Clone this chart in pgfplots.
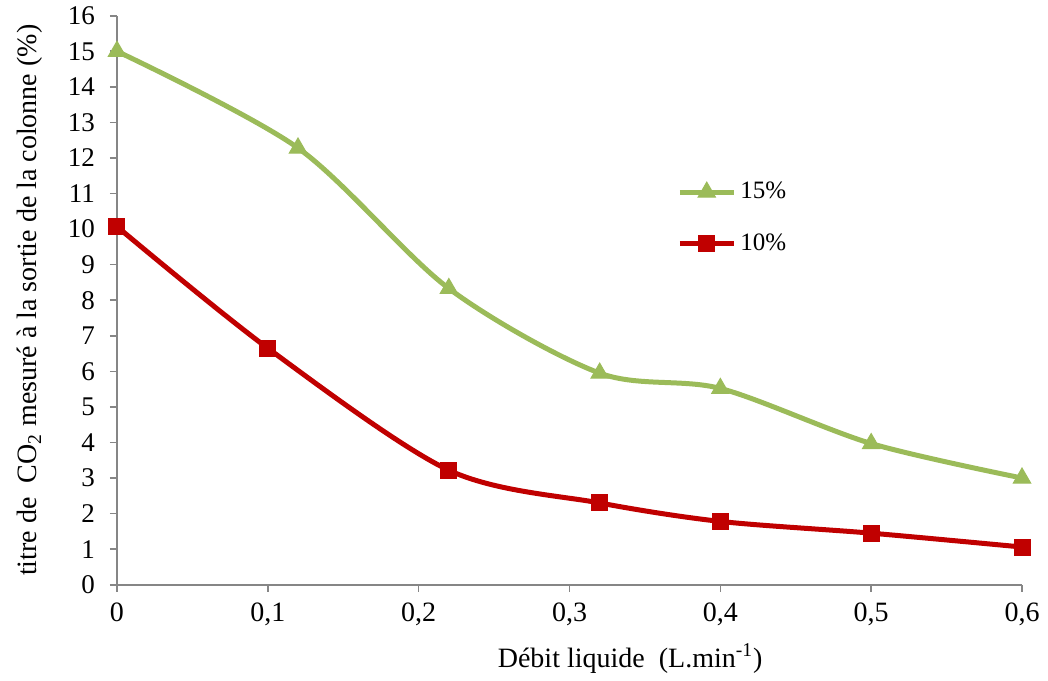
\documentclass[border=0pt]{standalone}
\usepackage{fontspec}
\setmainfont{Liberation Serif}
\usepackage{pgfplots}
\pgfplotsset{compat=1.18}
\definecolor{cgreen}{RGB}{155,187,89}
\definecolor{cred}{RGB}{192,0,0}
\definecolor{cgrey}{RGB}{134,134,134}
\begin{document}
\begin{tikzpicture}
\begin{axis}[
  width=452.5pt, height=284.5pt, scale only axis,
  xmin=0, xmax=0.6, ymin=0, ymax=16,
  xtick={0,0.1,...,0.6}, ytick={0,1,...,16},
  axis x line*=bottom, axis y line*=left,
  axis line style={cgrey, line width=0.8pt, -},
  tick style={cgrey, line width=0.8pt},
  major tick length=3.5pt,
  tick align=outside,
  clip=false,
  font=\fontsize{14}{16}\selectfont,
  /pgf/number format/.cd, use comma, fixed, precision=1, assume math mode=true,
  /pgfplots/.cd,
  xticklabel style={yshift=-2pt, font=\fontsize{14}{16}\selectfont},
  yticklabel style={xshift=-4pt, font=\fontsize{13.5}{16}\selectfont},
  xlabel={Débit liquide\ \ (L.min\textsuperscript{-1})},
  ylabel={titre de\ \ CO\textsubscript{2} mesuré à la sortie de la colonne (\%)},
  xlabel style={at={(axis description cs:0.567,-0.130)}, anchor=center},
  ylabel style={at={(axis description cs:-0.0961,0.5)}, anchor=center},
  legend style={draw=none, at={(0.612,0.722)}, anchor=north west, font=\fontsize{12.5}{14}\selectfont, row sep=12pt, fill=none},
  legend cell align=left,
  legend image code/.code={\draw[#1, mark repeat=2, mark phase=2] plot coordinates {(0pt,0pt) (13.5pt,0pt) (27pt,0pt)};},
]
\addplot[cgreen, line width=2.5pt, smooth, mark=triangle*, mark size=5pt, mark options={solid, line width=0.5pt}] coordinates {
(0,15) (0.12,12.28) (0.22,8.33) (0.32,5.95) (0.4,5.52) (0.5,3.97) (0.6,3.0)};
\addlegendentry{15\%}
\addplot[cred, line width=2.5pt, smooth, mark=square*, mark size=4pt, mark options={solid, line width=0.5pt}] coordinates {
(0,10.07) (0.1,6.65) (0.22,3.22) (0.32,2.3) (0.4,1.78) (0.5,1.45) (0.6,1.06)};
\addlegendentry{10\%}
\end{axis}
\path ([xshift=-58.5pt,yshift=-45pt]current axis.south west) rectangle ([xshift=13pt,yshift=7.5pt]current axis.north east);
\end{tikzpicture}
\end{document}
